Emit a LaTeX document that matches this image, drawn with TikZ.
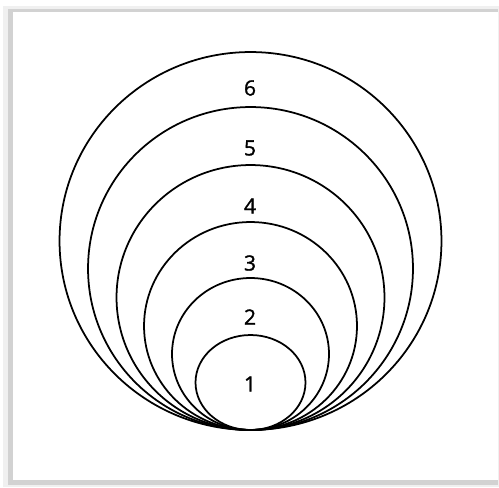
\documentclass[tikz,border=0pt]{standalone}
\usepackage{fontspec}
\setmainfont{Open Sans}
\newfontfamily\numfont{Open Sans}[FakeBold=1.3]
\usetikzlibrary{shapes.geometric}
\tikzset{
  ring/.style={draw, ellipse, line width=1pt, inner sep=0pt},
  num/.style={font=\numfont\fontsize{12}{14}\selectfont, inner sep=0pt}
}
\begin{document}
\begin{tikzpicture}[x=0.02cm, y=-0.02cm]
\useasboundingbox (0,0) rectangle (499,487);
% frame with shadow
\fill[gray!12] (3,6) rectangle (499,487);
\fill[gray!35] (8,9) rectangle (498,485);
\fill[white] (13,12) rectangle (498,480);
% nested circles, all touching at the bottom
\node[ring, minimum width=7.64cm, minimum height=7.56cm] (c6) at (250.5,241) {};
\node[ring, minimum width=6.50cm, minimum height=6.46cm] (c5) at (250.5,268.5) {};
\node[ring, minimum width=5.36cm, minimum height=5.30cm] (c4) at (250.5,297.5) {};
\node[ring, minimum width=4.26cm, minimum height=4.16cm] (c3) at (250.5,326) {};
\node[ring, minimum width=3.14cm, minimum height=3.04cm] (c2) at (250.5,354) {};
\node[ring, minimum width=2.20cm, minimum height=1.90cm] (c1) at (250.5,382.5) {};
% labels
\node[num] (l6) at (250,88) {6};
\node[num] (l5) at (250,148) {5};
\node[num] (l4) at (250,206) {4};
\node[num] (l3) at (250,263) {3};
\node[num] (l2) at (250,317) {2};
\node[num] (l1) at (250,384) {1};
\end{tikzpicture}
\end{document}
